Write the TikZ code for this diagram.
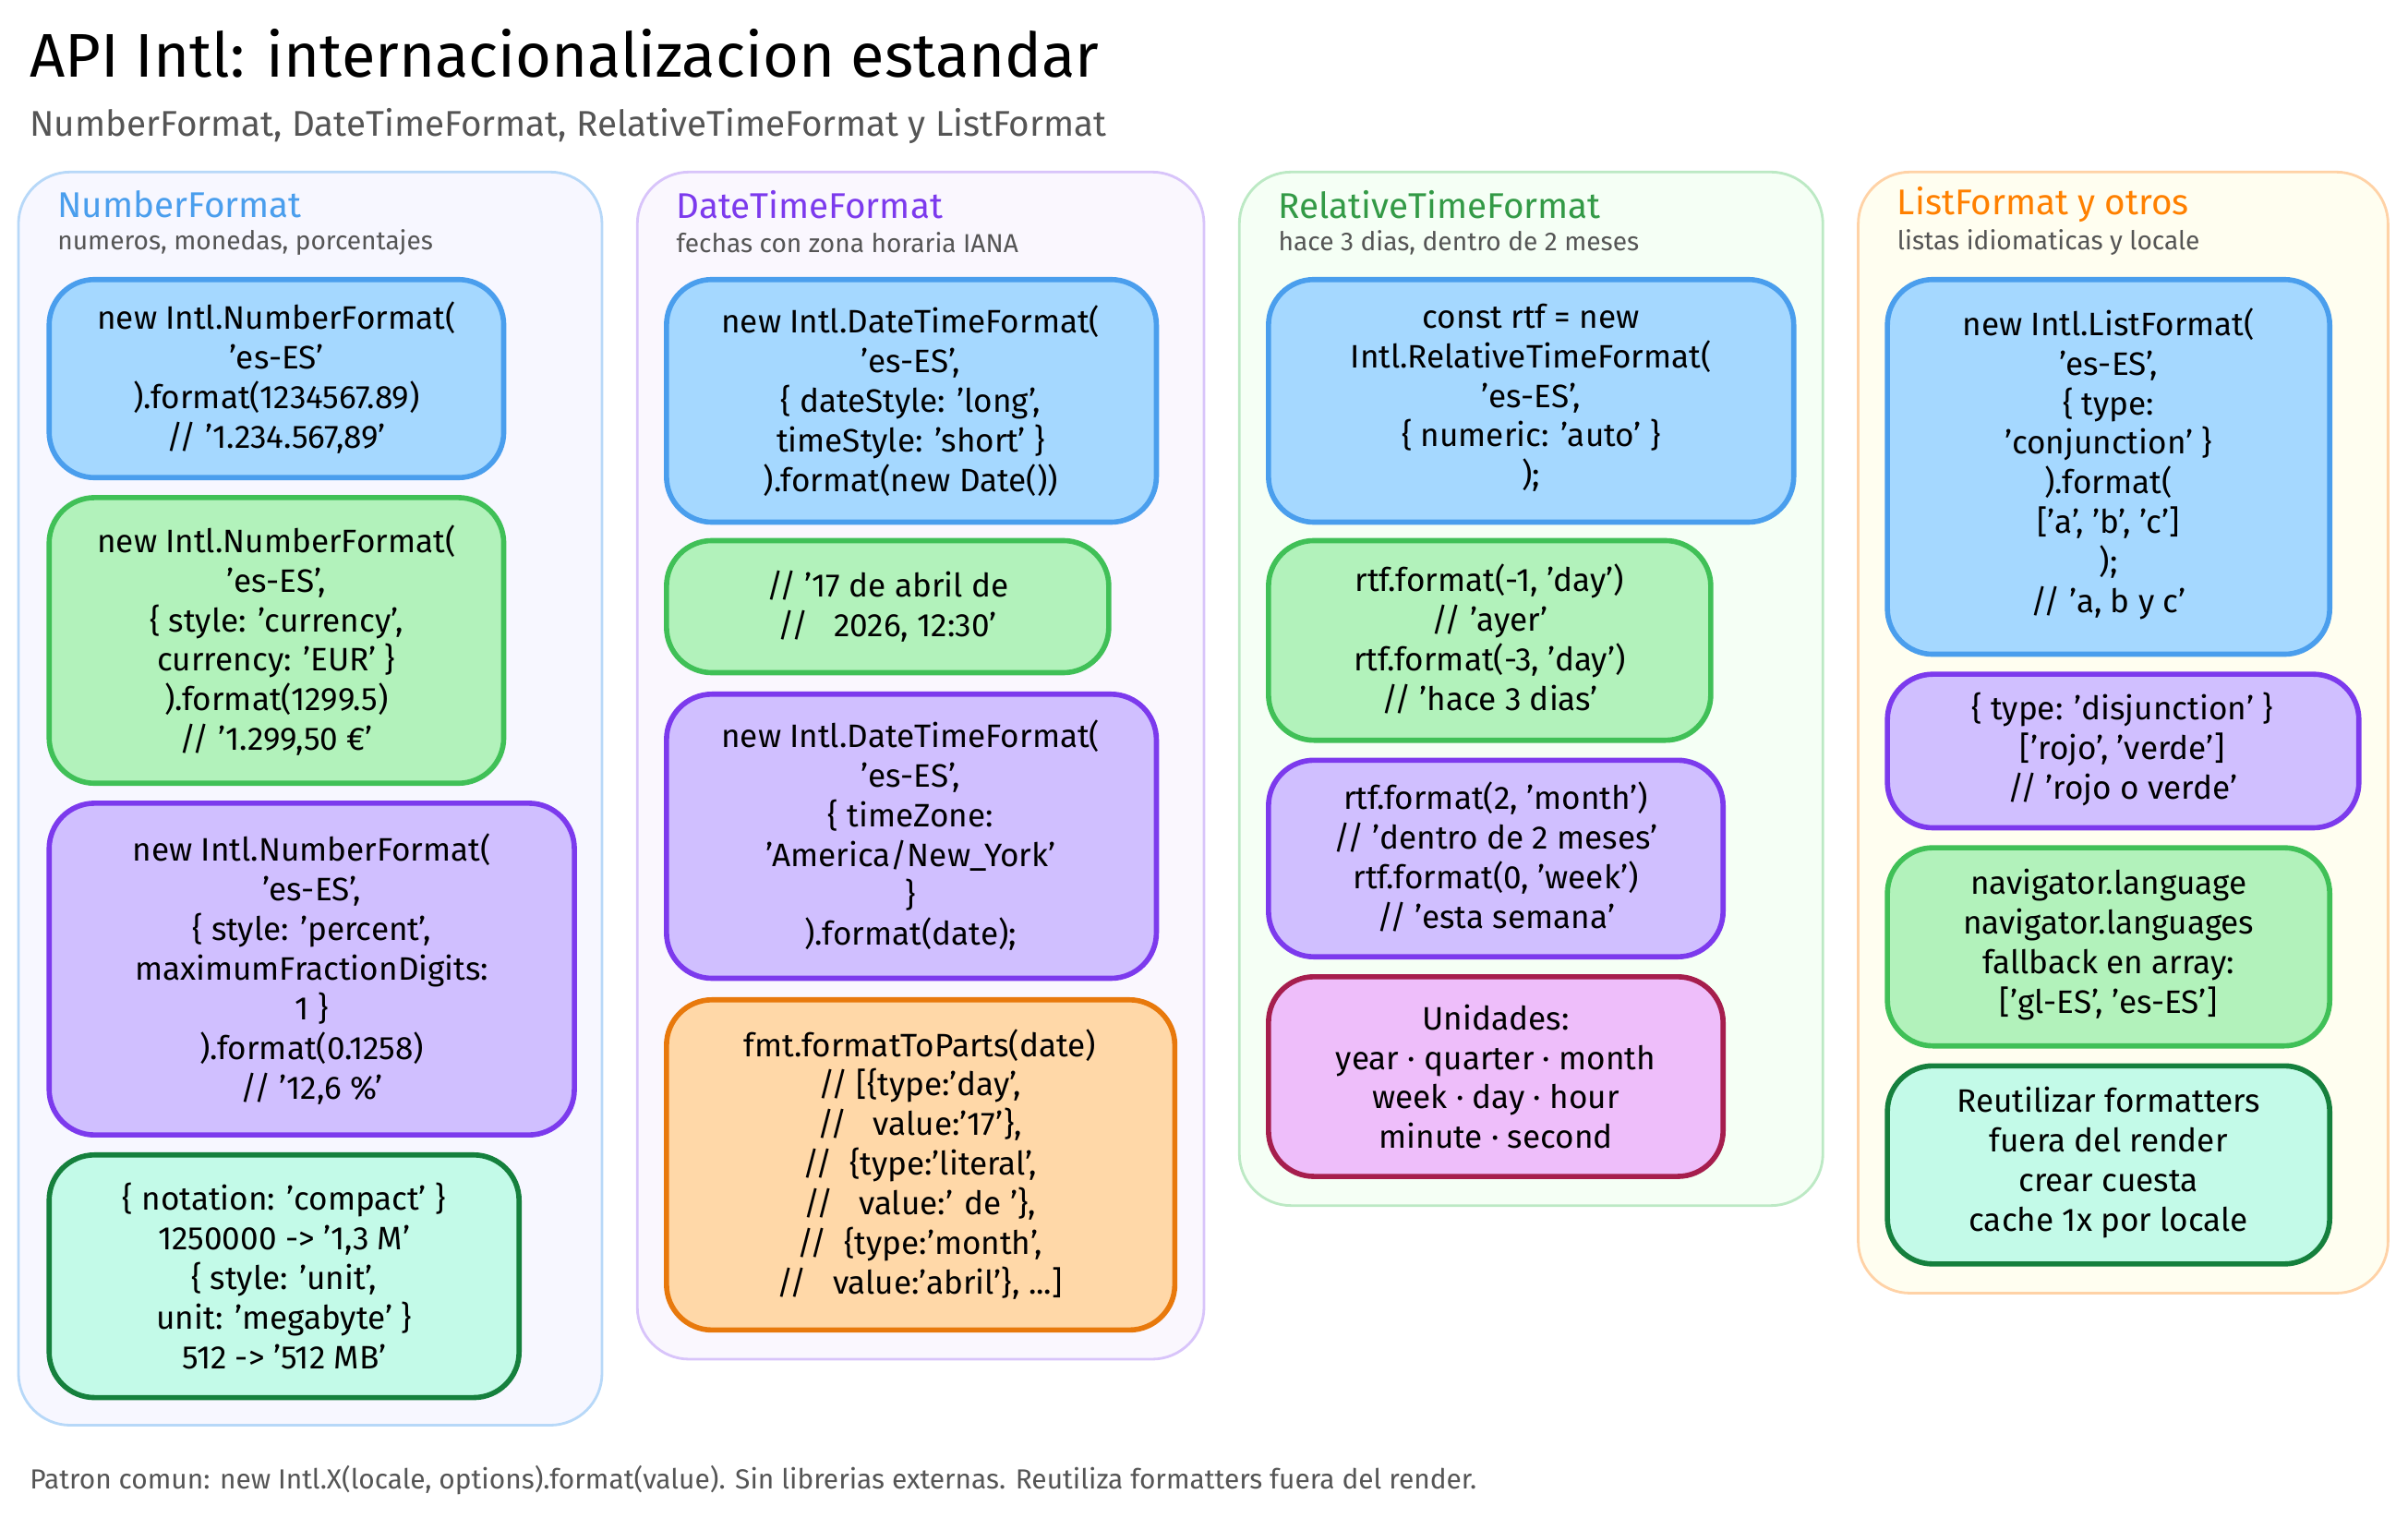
\documentclass[tikz,border=0pt]{standalone}
\usepackage{fontspec}
\setmainfont{Fira Sans}
\usepackage{xcolor}
\usetikzlibrary{positioning}
\definecolor{bluefill}{HTML}{A5D8FF}\definecolor{blueline}{HTML}{4A9EED}
\definecolor{greenfill}{HTML}{B2F2BB}\definecolor{greenline}{HTML}{40C057}
\definecolor{purpfill}{HTML}{D0BFFF}\definecolor{purpline}{HTML}{7C3AED}
\definecolor{tealfill}{HTML}{C3FAE8}\definecolor{tealline}{HTML}{15803D}
\definecolor{orfill}{HTML}{FFD8A8}\definecolor{orline}{HTML}{E8790C}
\definecolor{pinkfill}{HTML}{EEBEFA}\definecolor{pinkline}{HTML}{A61E4D}
\definecolor{txtgray}{HTML}{555555}
\begin{document}
\begin{tikzpicture}[x=0.1663mm,y=-0.1663mm,font=\fontsize{10}{12.2}\selectfont]
    \tikzstyle{col}=[rounded corners=16pt,line width=0.8pt]
    \tikzstyle{box}=[rounded corners=14pt,line width=1.6pt]
    \tikzstyle{code}=[align=center,inner sep=0pt]
    \tikzstyle{head}=[anchor=west,font=\fontsize{11}{13}\selectfont]
    \tikzstyle{sub}=[anchor=west,text=txtgray,font=\fontsize{8}{10}\selectfont]

    \useasboundingbox (0,0) rectangle (1568,988);

    \node[anchor=west,font=\fontsize{19}{22}\selectfont] (title) at (12,35) {API Intl: internacionalizacion estandar};
    \node[anchor=west,text=txtgray,font=\fontsize{11}{13}\selectfont] (subtitle) at (12,82) {NumberFormat, DateTimeFormat, RelativeTimeFormat y ListFormat};

    % columns
    \draw[col,draw=blueline!40,fill=blue!3] (12,112) rectangle (392,928);
    \draw[col,draw=purpline!30,fill=purpline!4] (415,112) rectangle (784,885);
    \draw[col,draw=greenline!35,fill=green!4] (807,112) rectangle (1187,785);
    \draw[col,draw=orange!35,fill=yellow!6] (1210,112) rectangle (1555,842);

    \node[head,text=blueline] (h1) at (30,133) {NumberFormat};
    \node[sub] (s1) at (30,158) {numeros, monedas, porcentajes};
    \node[head,text=purpline] (h2) at (433,133) {DateTimeFormat};
    \node[sub] (s2) at (433,158) {fechas con zona horaria IANA};
    \node[head,text=greenline!80!black] (h3) at (825,133) {RelativeTimeFormat};
    \node[sub] (s3) at (825,158) {hace 3 dias, dentro de 2 meses};
    \node[head,text=orange] (h4) at (1228,133) {ListFormat y otros};
    \node[sub] (s4) at (1228,158) {listas idiomaticas y locale};

    % NumberFormat
    \draw[box,draw=blueline,fill=bluefill] (32,182) rectangle (328,311);
    \node[code] (n1) at (180,246) {new Intl.NumberFormat(\\'es-ES'\\).format(1234567.89)\\// '1.234.567,89'};
    \draw[box,draw=greenline,fill=greenfill] (32,324) rectangle (328,510);
    \node[code] (n2) at (180,417) {new Intl.NumberFormat(\\'es-ES',\\\{ style: 'currency',\\currency: 'EUR' \}\\).format(1299.5)\\// '1.299,50 €'};
    \draw[box,draw=purpline,fill=purpfill] (32,523) rectangle (374,739);
    \node[code] (n3) at (203,631) {new Intl.NumberFormat(\\'es-ES',\\\{ style: 'percent',\\maximumFractionDigits:\\1 \}\\).format(0.1258)\\// '12,6 \%'};
    \draw[box,draw=tealline,fill=tealfill] (32,752) rectangle (338,910);
    \node[code] (n4) at (185,831) {\{ notation: 'compact' \}\\1250000 -> '1,3 M'\\\{ style: 'unit',\\unit: 'megabyte' \}\\512 -> '512 MB'};

    % DateTimeFormat
    \draw[box,draw=blueline,fill=bluefill] (434,182) rectangle (753,340);
    \node[code] (d1) at (593,261) {new Intl.DateTimeFormat(\\'es-ES',\\\{ dateStyle: 'long',\\timeStyle: 'short' \}\\).format(new Date())};
    \draw[box,draw=greenline,fill=greenfill] (434,352) rectangle (722,438);
    \node[code] (d2) at (578,395) {// '17 de abril de\\//\ \ \ 2026, 12:30'};
    \draw[box,draw=purpline,fill=purpfill] (434,452) rectangle (753,637);
    \node[code] (d3) at (593,544) {new Intl.DateTimeFormat(\\'es-ES',\\\{ timeZone:\\'America/New\_York'\\\}\\).format(date);};
    \draw[box,draw=orline,fill=orfill] (434,651) rectangle (765,866);
    \node[code] (d4) at (599,758) {fmt.formatToParts(date)\\// [\{type:'day',\\//\ \ \ value:'17'\},\\//\ \ \{type:'literal',\\//\ \ \ value:' de '\},\\//\ \ \{type:'month',\\//\ \ \ value:'abril'\}, ...]};

    % RelativeTimeFormat
    \draw[box,draw=blueline,fill=bluefill] (826,182) rectangle (1168,340);
    \node[code] (r1) at (997,259) {const rtf = new\\Intl.RelativeTimeFormat(\\'es-ES',\\\{ numeric: 'auto' \}\\);};
    \draw[box,draw=greenline,fill=greenfill] (826,352) rectangle (1114,482);
    \node[code] (r2) at (970,416) {rtf.format(-1, 'day')\\// 'ayer'\\rtf.format(-3, 'day')\\// 'hace 3 dias'};
    \draw[box,draw=purpline,fill=purpfill] (826,495) rectangle (1122,623);
    \node[code] (r3) at (974,558) {rtf.format(2, 'month')\\// 'dentro de 2 meses'\\rtf.format(0, 'week')\\// 'esta semana'};
    \draw[box,draw=pinkline,fill=pinkfill] (826,636) rectangle (1122,766);
    \node[code] (r4) at (974,701) {Unidades:\\year · quarter · month\\week · day · hour\\minute · second};

    % ListFormat y otros
    \draw[box,draw=blueline,fill=bluefill] (1229,182) rectangle (1517,426);
    \node[code] (l1) at (1373,302) {new Intl.ListFormat(\\'es-ES',\\\{ type:\\'conjunction' \}\\).format(\\{}['a', 'b', 'c']\\);\\// 'a, b y c'};
    \draw[box,draw=purpline,fill=purpfill] (1229,439) rectangle (1536,539);
    \node[code] (l2) at (1382,488) {\{ type: 'disjunction' \}\\{}['rojo', 'verde']\\// 'rojo o verde'};
    \draw[box,draw=greenline,fill=greenfill] (1229,552) rectangle (1517,681);
    \node[code] (l3) at (1373,615) {navigator.language\\navigator.languages\\fallback en array:\\{}['gl-ES', 'es-ES']};
    \draw[box,draw=tealline,fill=tealfill] (1229,694) rectangle (1517,823);
    \node[code] (l4) at (1373,757) {Reutilizar formatters\\fuera del render\\crear cuesta\\cache 1x por locale};

    \node[anchor=west,text=txtgray,font=\fontsize{8.5}{10}\selectfont] (foot) at (12,964) {Patron comun: new Intl.X(locale, options).format(value). Sin librerias externas. Reutiliza formatters fuera del render.};
\end{tikzpicture}
\end{document}
